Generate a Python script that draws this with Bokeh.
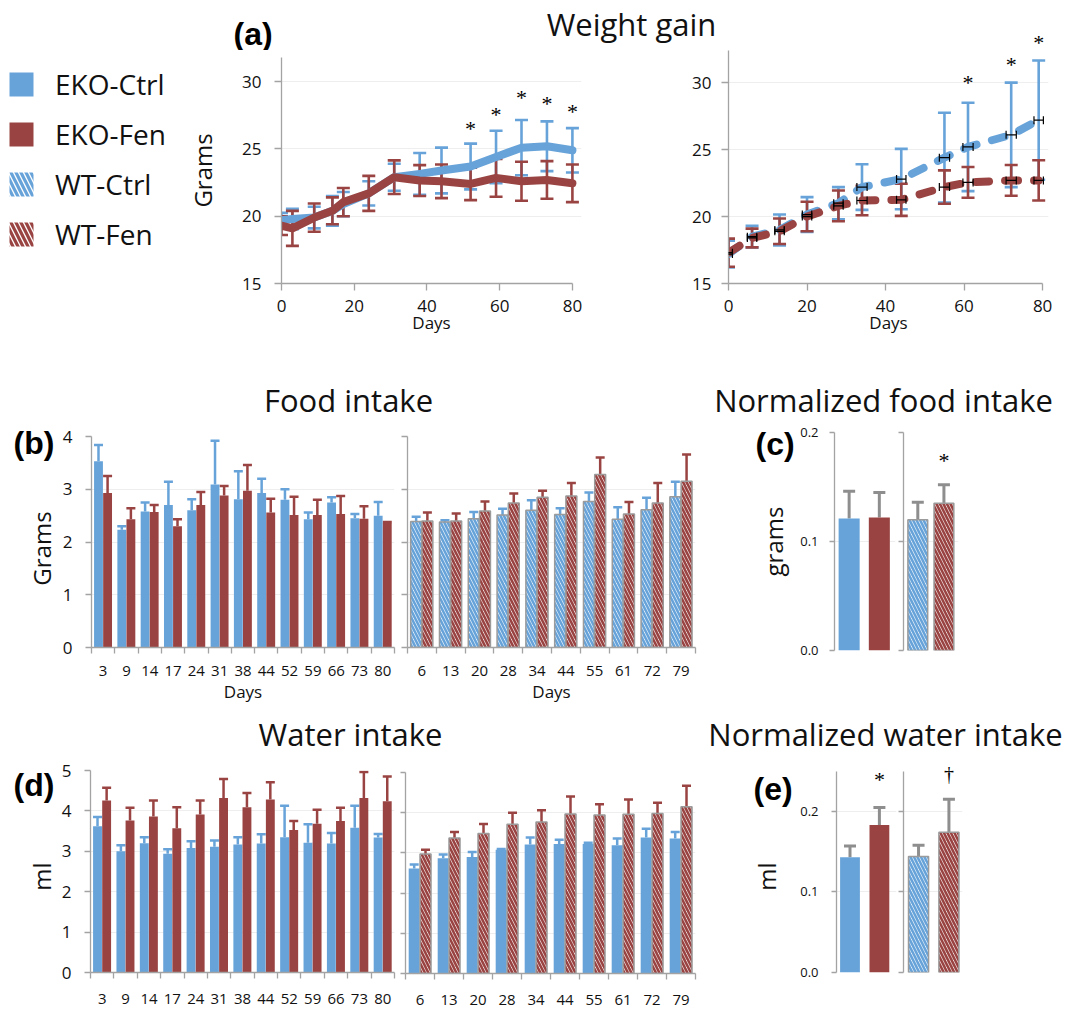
from math import pi
from bokeh.plotting import figure
from bokeh.models import (Range1d, FixedTicker, Whisker, TeeHead, ColumnDataSource,
                          LabelSet, Label, Legend, LegendItem, NumeralTickFormatter)
from bokeh.layouts import column, row
from bokeh.embed import file_html
from bokeh.resources import INLINE

# ---------------- data ----------------
eko_days = ["3", "9", "14", "17", "24", "31", "38", "44", "52", "59", "66", "73", "80"]
wt_days = ["6", "13", "20", "28", "34", "44", "55", "61", "72", "79"]

# (a) weight gain, EKO mice
wg_eko_days = [0, 3, 9, 14, 17, 24, 31, 38, 44, 52, 59, 66, 73, 80]
wg_eko_ctrl = [19.7, 19.8, 19.9, 20.4, 20.9, 21.7, 22.9, 23.15, 23.4, 23.7, 24.4, 25.1, 25.2, 24.9]
wg_eko_ctrl_err = [0.55, 0.76, 0.8, 1.1, 0.9, 0.9, 1.0, 1.55, 1.7, 1.7, 1.95, 2.05, 1.85, 1.65]
wg_eko_fen = [19.3, 19.1, 19.9, 20.4, 21.05, 21.7, 22.9, 22.65, 22.6, 22.4, 22.85, 22.6, 22.7, 22.45]
wg_eko_fen_err = [0.7, 1.3, 1.05, 1.0, 1.05, 1.3, 1.25, 1.15, 1.25, 1.2, 1.4, 1.45, 1.4, 1.4]
wg_eko_star_days = [52, 59, 66, 73, 80]
wg_eko_star_y = [26.5, 27.6, 28.8, 28.4, 27.75]

# (a) weight gain, WT mice
wg_wt_days = [0, 6, 13, 20, 28, 34, 44, 55, 61, 72, 79]
wg_wt_ctrl = [17.2, 18.5, 19.0, 20.15, 21.0, 22.2, 22.8, 24.4, 25.2, 26.1, 27.2]
wg_wt_ctrl_err = [1.0, 0.8, 1.15, 1.3, 1.2, 1.7, 2.25, 3.35, 3.3, 3.9, 4.45]
wg_wt_fen = [17.3, 18.4, 18.9, 20.0, 20.8, 21.2, 21.25, 22.2, 22.55, 22.7, 22.7]
wg_wt_fen_err = [1.05, 0.7, 0.95, 1.1, 1.15, 1.1, 1.2, 1.25, 1.15, 1.15, 1.5]
wg_wt_day_err = [1.0, 1.2, 1.2, 1.2, 1.2, 1.3, 1.2, 1.3, 1.3, 1.3, 1.2]
wg_wt_star_days = [61, 72, 79]
wg_wt_star_y = [30.0, 31.35, 33.0]

# (b) food intake (grams)
food_eko_ctrl = [3.53, 2.23, 2.58, 2.70, 2.60, 3.09, 2.81, 2.93, 2.80, 2.43, 2.75, 2.45, 2.50]
food_eko_ctrl_err = [0.31, 0.07, 0.17, 0.44, 0.21, 0.83, 0.53, 0.27, 0.20, 0.13, 0.10, 0.08, 0.26]
food_eko_fen = [2.93, 2.43, 2.57, 2.30, 2.70, 2.88, 2.97, 2.56, 2.51, 2.51, 2.53, 2.44, 2.36]
food_eko_fen_err = [0.32, 0.21, 0.13, 0.13, 0.25, 0.18, 0.49, 0.26, 0.35, 0.29, 0.34, 0.24, 0.02]
food_wt_ctrl = [2.39, 2.38, 2.44, 2.51, 2.60, 2.52, 2.77, 2.43, 2.61, 2.86]
food_wt_ctrl_err = [0.09, 0.03, 0.13, 0.12, 0.19, 0.12, 0.17, 0.23, 0.23, 0.28]
food_wt_fen = [2.40, 2.40, 2.59, 2.74, 2.85, 2.87, 3.28, 2.53, 2.74, 3.15]
food_wt_fen_err = [0.16, 0.14, 0.18, 0.18, 0.12, 0.25, 0.32, 0.23, 0.38, 0.51]

# (c) normalized food intake: EKO-Ctrl, EKO-Fen | WT-Ctrl, WT-Fen
nfood = [0.121, 0.122, 0.120, 0.135]
nfood_err = [0.025, 0.023, 0.016, 0.017]
nfood_star_y = 0.174

# (d) water intake (ml)
water_eko_ctrl = [3.62, 3.00, 3.20, 2.94, 3.08, 3.11, 3.17, 3.19, 3.35, 3.21, 3.19, 3.58, 3.34]
water_eko_ctrl_err = [0.23, 0.15, 0.15, 0.11, 0.17, 0.16, 0.18, 0.23, 0.78, 0.46, 0.26, 0.55, 0.09]
water_eko_fen = [4.26, 3.76, 3.86, 3.57, 3.91, 4.32, 4.09, 4.28, 3.53, 3.68, 3.75, 4.32, 4.24]
water_eko_fen_err = [0.31, 0.32, 0.40, 0.52, 0.35, 0.47, 0.35, 0.43, 0.22, 0.35, 0.33, 0.64, 0.61]
water_wt_ctrl = [2.61, 2.87, 2.90, 3.08, 3.21, 3.22, 3.22, 3.19, 3.38, 3.36]
water_wt_ctrl_err = [0.10, 0.09, 0.12, 0.02, 0.17, 0.11, 0.03, 0.17, 0.22, 0.16]
water_wt_fen = [2.97, 3.37, 3.48, 3.71, 3.77, 3.97, 3.94, 3.96, 3.98, 4.15]
water_wt_fen_err = [0.11, 0.15, 0.24, 0.29, 0.29, 0.43, 0.27, 0.37, 0.27, 0.52]

# (e) normalized water intake
nwater = [0.143, 0.183, 0.144, 0.174]
nwater_err = [0.014, 0.022, 0.014, 0.041]
nwater_star_y = [0.240, 0.246]

# ---------------- style ----------------
BLUE = "#67a3d9"
RED = "#994442"
ERR_GRAY = "#8e8e8e"
AXIS = "#a3a3a3"
GRID = "#eeeeee"
OUTLINE = "#9b9b9b"
TXT = "#111111"
FONT = "Open Sans"
STAR_FONT = "Lato"
BOLD_FONT = "Liberation Sans"


def no_align(p):
    if "frame_align" in p.properties():
        p.frame_align = False


def style_axis(ax):
    ax.axis_line_color = AXIS
    ax.axis_line_width = 1.3
    ax.major_tick_line_color = AXIS
    ax.major_tick_line_width = 1.3
    ax.major_tick_in = 0
    ax.minor_tick_line_color = None
    ax.major_label_text_font = FONT
    ax.major_label_text_color = TXT
    ax.axis_label_text_font = FONT
    ax.axis_label_text_font_style = "normal"
    ax.axis_label_text_color = TXT


def base_fig(w, h, bl, br, bt, bb, xr, yr, x_axis=True, y_axis=True):
    p = figure(width=w, height=h, x_range=Range1d(*xr), y_range=Range1d(*yr), title=None,
               output_backend="svg", toolbar_location=None, tools="",
               min_border_left=bl, min_border_right=br,
               min_border_top=bt, min_border_bottom=bb,
               x_axis_location="below" if x_axis else None,
               y_axis_location="left" if y_axis else None)
    no_align(p)
    p.outline_line_color = None
    p.background_fill_color = "white"
    p.border_fill_color = "white"
    p.xgrid.visible = False
    p.ygrid.grid_line_color = GRID
    p.ygrid.grid_line_width = 1
    for ax in p.axis:
        style_axis(ax)
    return p


def blank(w, h):
    p = figure(width=w, height=h, x_range=Range1d(0, w), y_range=Range1d(0, h), title=None,
               output_backend="svg", toolbar_location=None, tools="",
               min_border=0, x_axis_location=None, y_axis_location=None)
    no_align(p)
    p.outline_line_color = None
    p.grid.visible = False
    p.border_fill_color = "white"
    return p


def text(p, x, y, t, size="31px", align="center", font=FONT, bold=False, angle=0, color=TXT):
    p.add_layout(Label(x=x, y=y, text=t, text_align=align,
                       text_baseline="alphabetic", angle=angle,
                       text_font=font, text_font_style="bold" if bold else "normal",
                       text_font_size=size, text_color=color))


def panel_tag(p, x, y, t):
    text(p, x, y, t, size="32px", align="left", font=BOLD_FONT, bold=True, color="#000000")


def errbars(p, x, mean, err, color, size, width, both=False):
    lo = [m - e for m, e in zip(mean, err)] if both else list(mean)
    hi = [m + e for m, e in zip(mean, err)]
    src = ColumnDataSource(dict(base=list(x), lower=lo, upper=hi))
    p.add_layout(Whisker(source=src, base="base", lower="lower", upper="upper",
                         line_color=color, line_width=width,
                         upper_head=TeeHead(size=size, line_color=color, line_width=width),
                         lower_head=TeeHead(size=size, line_color=color, line_width=width) if both else None))


def bars(p, x, top, width, colors, hatched):
    src = ColumnDataSource(dict(x=list(x), top=list(top), c=list(colors)))
    if hatched:
        p.vbar(x="x", top="top", width=width, bottom=0, source=src, fill_color="white",
               line_color=OUTLINE, line_width=1.5,
               hatch_pattern="left_diagonal_line", hatch_color="c",
               hatch_weight=2.6, hatch_scale=7)
    else:
        p.vbar(x="x", top="top", width=width, bottom=0, source=src, fill_color="c",
               line_color=None)


def stars(p, xs, ys, texts, size="22px", font=STAR_FONT, **kw):
    src = ColumnDataSource(dict(x=list(xs), y=list(ys), t=list(texts)))
    p.add_layout(LabelSet(x="x", y="y", text="t", source=src, text_align="center",
                          text_baseline="middle", text_font=font, text_font_size=size,
                          text_color="#000000", **kw))


def cat_axis(p, labels, size="15px", standoff=12):
    n = len(labels)
    ax = p.xaxis[0]
    ax.ticker = FixedTicker(ticks=[i + 0.5 for i in range(n)], minor_ticks=list(range(n + 1)))
    ax.major_label_overrides = {i + 0.5: lab for i, lab in enumerate(labels)}
    ax.major_tick_out = 0
    ax.minor_tick_out = 6
    ax.minor_tick_in = 0
    ax.minor_tick_line_color = AXIS
    ax.minor_tick_line_width = 1.3
    ax.major_label_text_font_size = size
    ax.major_label_standoff = standoff


def y_axis(p, ticks, size, standoff, tick_out, show_labels=True, fmt=None, bounds=None):
    ax = p.yaxis[0]
    ax.ticker = FixedTicker(ticks=ticks)
    ax.major_tick_out = tick_out
    if show_labels:
        ax.major_label_text_font_size = size
        ax.major_label_standoff = standoff
    else:
        ax.major_label_text_font_size = "1px"
        ax.major_label_text_color = None
        ax.major_label_standoff = 0
    if fmt:
        ax.formatter = NumeralTickFormatter(format=fmt)
    if bounds:
        ax.bounds = bounds


def days_axis(p, bounds):
    ax = p.xaxis[0]
    ax.ticker = FixedTicker(ticks=[0, 20, 40, 60, 80])
    ax.bounds = bounds
    ax.major_tick_out = 7
    ax.major_label_text_font_size = "17px"
    ax.major_label_standoff = 9
    ax.axis_label = "Days"
    ax.axis_label_text_font_size = "17px"
    ax.axis_label_standoff = -4


# ---------------- geometry of the weight-gain WT panel ----------------
A2_LEFT, A2_W, A2_BL, A2_BR = 686, 383, 42, 21
A2_XR, A2_YR = (0, 81.5), (15, 32.4)
A2_FRAME_H = 300 - 67
px_day = (A2_W - A2_BL - A2_BR) / (A2_XR[1] - A2_XR[0])
px_gram = A2_FRAME_H / (A2_YR[1] - A2_YR[0])

# ---------------- strip 1: title, "(a)" and the top star of the WT panel ----------------
s1 = blank(1069, 50)
s1_x0 = A2_XR[0] - (A2_LEFT + A2_BL) / px_day
s1.extra_x_ranges = {"days": Range1d(s1_x0, s1_x0 + 1069 / px_day)}
s1.extra_y_ranges = {"grams": Range1d(A2_YR[1], A2_YR[1] + 50 / px_gram)}
text(s1, 631, 27, "Weight gain")
panel_tag(s1, 233, 17, "(a)")
top_star = [i for i, v in enumerate(wg_wt_star_y) if v > A2_YR[1]]
stars(s1, [wg_wt_star_days[i] for i in top_star], [wg_wt_star_y[i] for i in top_star],
      ["*"] * len(top_star), x_range_name="days", y_range_name="grams")

# ---------------- legend ----------------
lf = figure(width=183, height=300, x_range=Range1d(0, 1), y_range=Range1d(0, 1), title=None,
            output_backend="svg", toolbar_location=None, tools="",
            min_border_left=6, min_border_top=15, min_border_right=0, min_border_bottom=0,
            x_axis_location=None, y_axis_location=None)
no_align(lf)
lf.outline_line_color = None
lf.grid.visible = False
r_ec = lf.vbar(x=[5], top=[1], width=0.5, fill_color=BLUE, line_color=None)
r_ef = lf.vbar(x=[5], top=[1], width=0.5, fill_color=RED, line_color=None)
r_wc = lf.vbar(x=[5], top=[1], width=0.5, fill_color="white", line_color=None,
               hatch_pattern="left_diagonal_line", hatch_color=BLUE, hatch_weight=3.2, hatch_scale=10)
r_wf = lf.vbar(x=[5], top=[1], width=0.5, fill_color="white", line_color=None,
               hatch_pattern="left_diagonal_line", hatch_color=RED, hatch_weight=3.2, hatch_scale=10)
legend = Legend(items=[LegendItem(label="EKO-Ctrl", renderers=[r_ec]),
                       LegendItem(label="EKO-Fen", renderers=[r_ef]),
                       LegendItem(label="WT-Ctrl", renderers=[r_wc]),
                       LegendItem(label="WT-Fen", renderers=[r_wf])],
                location="top_left", orientation="vertical",
                glyph_width=30, glyph_height=30, label_height=30, spacing=12,
                padding=0, margin=0, label_standoff=19,
                label_text_font=FONT, label_text_font_size="28px", label_text_color=TXT,
                border_line_color=None, background_fill_alpha=0)
lf.add_layout(legend)

# ---------------- (a) left: EKO ----------------
a1 = base_fig(503, 300, 94, 105, 7, 67, (0, 82.5), (15, 31.8))
days_axis(a1, (0, 80))
y_axis(a1, [15, 20, 25, 30], "17px", 13, 7)
a1.yaxis[0].axis_label = "Grams"
a1.yaxis[0].axis_label_text_font_size = "24px"
a1.yaxis[0].axis_label_standoff = 20
errbars(a1, wg_eko_days, wg_eko_ctrl, wg_eko_ctrl_err, BLUE, 13, 2.6, both=True)
a1.line(wg_eko_days, wg_eko_ctrl, line_color=BLUE, line_width=8, line_join="round", line_cap="round")
errbars(a1, wg_eko_days, wg_eko_fen, wg_eko_fen_err, RED, 13, 2.6, both=True)
a1.line(wg_eko_days, wg_eko_fen, line_color=RED, line_width=8, line_join="round", line_cap="round")
stars(a1, wg_eko_star_days, wg_eko_star_y, ["*"] * len(wg_eko_star_days))

# ---------------- (a) right: WT ----------------
a2 = base_fig(A2_W, 300, A2_BL, A2_BR, 0, 67, A2_XR, A2_YR)
days_axis(a2, (0, 80))
y_axis(a2, [15, 20, 25, 30], "17px", 10, 7)
errbars(a2, wg_wt_days, wg_wt_ctrl, wg_wt_ctrl_err, BLUE, 13, 2.6, both=True)
errbars(a2, wg_wt_days, wg_wt_fen, wg_wt_fen_err, RED, 13, 2.6, both=True)
a2.line(wg_wt_days, wg_wt_ctrl, line_color=BLUE, line_width=8, line_dash="13 16", line_cap="round")
a2.line(wg_wt_days, wg_wt_fen, line_color=RED, line_width=8, line_dash="13 16", line_cap="round")
for series in (wg_wt_ctrl, wg_wt_fen):
    hsrc = ColumnDataSource(dict(
        base=list(series),
        lower=[d - e for d, e in zip(wg_wt_days, wg_wt_day_err)],
        upper=[d + e for d, e in zip(wg_wt_days, wg_wt_day_err)]))
    a2.add_layout(Whisker(source=hsrc, base="base", lower="lower", upper="upper",
                          dimension="width", line_color="black", line_width=1.2, level="overlay",
                          upper_head=TeeHead(size=8, line_color="black", line_width=1.2),
                          lower_head=TeeHead(size=8, line_color="black", line_width=1.2)))
in_frame = [i for i, v in enumerate(wg_wt_star_y) if v <= A2_YR[1]]
stars(a2, [wg_wt_star_days[i] for i in in_frame], [wg_wt_star_y[i] for i in in_frame],
      ["*"] * len(in_frame))

# ---------------- strip 2: titles ----------------
t2 = blank(1069, 73)
text(t2, 348, 24, "Food intake")
text(t2, 883, 24, "Normalized food intake")

# ---------------- (b) food intake ----------------
gb = blank(58, 282)
panel_tag(gb, 13, 263, "(b)")
text(gb, 41, 157, "Grams", size="24px", angle=pi / 2)

b1 = base_fig(341, 282, 33, 5, 13, 56, (0, 13), (0, 4))
cat_axis(b1, eko_days)
b1.xaxis[0].axis_label = "Days"
b1.xaxis[0].axis_label_text_font_size = "17px"
b1.xaxis[0].axis_label_standoff = 1
y_axis(b1, [0, 1, 2, 3, 4], "17px", 13, 6)
xb_c = [i + 0.3 for i in range(len(eko_days))]
xb_f = [i + 0.69 for i in range(len(eko_days))]
bars(b1, xb_c, food_eko_ctrl, 0.38, [BLUE] * len(xb_c), False)
bars(b1, xb_f, food_eko_fen, 0.38, [RED] * len(xb_f), False)
errbars(b1, xb_c, food_eko_ctrl, food_eko_ctrl_err, BLUE, 9, 2.5)
errbars(b1, xb_f, food_eko_fen, food_eko_fen_err, RED, 9, 2.5)

b2 = base_fig(301, 282, 8, 5, 13, 56, (0, 10), (0, 4))
cat_axis(b2, wt_days)
b2.xaxis[0].axis_label = "Days"
b2.xaxis[0].axis_label_text_font_size = "17px"
b2.xaxis[0].axis_label_standoff = 1
y_axis(b2, [0, 1, 2, 3, 4], "17px", 0, 6, show_labels=False)
xw_c = [i + 0.3 for i in range(len(wt_days))]
xw_f = [i + 0.69 for i in range(len(wt_days))]
bars(b2, xw_c, food_wt_ctrl, 0.38, [BLUE] * len(xw_c), True)
bars(b2, xw_f, food_wt_fen, 0.38, [RED] * len(xw_f), True)
errbars(b2, xw_c, food_wt_ctrl, food_wt_ctrl_err, BLUE, 9, 2.5)
errbars(b2, xw_f, food_wt_fen, food_wt_fen_err, RED, 9, 2.5)

# ---------------- (c) normalized food intake ----------------
gc = blank(95, 282)
panel_tag(gc, 55, 262, "(c)")
text(gc, 73, 164, "grams", size="24px", angle=pi / 2)

c1 = base_fig(102, 282, 39, 2, 9, 55, (0, 2), (0, 0.2), x_axis=False)
y_axis(c1, [0, 0.1, 0.2], "13px", 11, 5, fmt="0.0")
c1_x = [0.48, 1.47]
bars(c1, c1_x, nfood[:2], 0.69, [BLUE, RED], False)
errbars(c1, c1_x, nfood[:2], nfood_err[:2], ERR_GRAY, 12, 3)

c2 = base_fig(172, 282, 6, 111, 9, 55, (0, 2), (0, 0.2), x_axis=False)
y_axis(c2, [0, 0.1, 0.2], "13px", 0, 5, show_labels=False)
c2_x = [0.52, 1.47]
bars(c2, c2_x, nfood[2:], 0.72, [BLUE, RED], True)
errbars(c2, c2_x, nfood[2:], nfood_err[2:], ERR_GRAY, 12, 3)
stars(c2, [c2_x[1]], [nfood_star_y], ["*"])

# ---------------- strip 3: titles ----------------
t3 = blank(1069, 53)
text(t3, 350, 25, "Water intake")
text(t3, 885, 25, "Normalized water intake")

# ---------------- (d) water intake ----------------
gd = blank(58, 251)
panel_tag(gd, 13, 225, "(d)")
text(gd, 41, 133, "ml", size="24px", angle=pi / 2)

d1 = base_fig(341, 251, 32, 5, 12, 37, (0, 13), (0, 5))
cat_axis(d1, eko_days, standoff=15)
y_axis(d1, [0, 1, 2, 3, 4, 5], "17px", 13, 6)
bars(d1, xb_c, water_eko_ctrl, 0.38, [BLUE] * len(xb_c), False)
bars(d1, xb_f, water_eko_fen, 0.38, [RED] * len(xb_f), False)
errbars(d1, xb_c, water_eko_ctrl, water_eko_ctrl_err, BLUE, 9, 2.5)
errbars(d1, xb_f, water_eko_fen, water_eko_fen_err, RED, 9, 2.5)

d2 = base_fig(301, 251, 6, 5, 14, 36, (0, 10), (0, 5))
cat_axis(d2, wt_days, standoff=15)
y_axis(d2, [0, 1, 2, 3, 4, 5], "17px", 0, 5, show_labels=False)
bars(d2, xw_c, water_wt_ctrl, 0.38, [BLUE] * len(xw_c), False)
bars(d2, xw_f, water_wt_fen, 0.38, [RED] * len(xw_f), True)
errbars(d2, xw_c, water_wt_ctrl, water_wt_ctrl_err, BLUE, 9, 2.5)
errbars(d2, xw_f, water_wt_fen, water_wt_fen_err, RED, 9, 2.5)

# ---------------- (e) normalized water intake ----------------
ge = blank(95, 251)
panel_tag(ge, 53, 221, "(e)")
text(ge, 66, 133, "ml", size="24px", angle=pi / 2)

e1 = base_fig(102, 251, 41, 1, 3, 37, (0, 2), (0, 0.262), x_axis=False)
y_axis(e1, [0, 0.1, 0.2], "13px", 13, 5, fmt="0.0", bounds=(0, 0.25))
e1_x = [0.45, 1.43]
bars(e1, e1_x, nwater[:2], 0.66, [BLUE, RED], False)
errbars(e1, e1_x, nwater[:2], nwater_err[:2], ERR_GRAY, 12, 3)
stars(e1, [e1_x[1]], [nwater_star_y[0]], ["*"])

e2 = base_fig(172, 251, 6, 107, 3, 37, (0, 2), (0, 0.262), x_axis=False)
y_axis(e2, [0, 0.1, 0.2], "13px", 0, 5, show_labels=False, bounds=(0, 0.25))
e2_x = [0.51, 1.54]
bars(e2, e2_x, nwater[2:], 0.68, [BLUE, RED], True)
errbars(e2, e2_x, nwater[2:], nwater_err[2:], ERR_GRAY, 12, 3)
stars(e2, [e2_x[1]], [nwater_star_y[1]], ["\u2020"], size="20px", font="DejaVu Sans")

layout = column(
    s1,
    row(lf, a1, a2),
    t2,
    row(gb, b1, b2, gc, c1, c2),
    t3,
    row(gd, d1, d2, ge, e1, e2),
)

open("out.html", "w").write(file_html(layout, INLINE))
